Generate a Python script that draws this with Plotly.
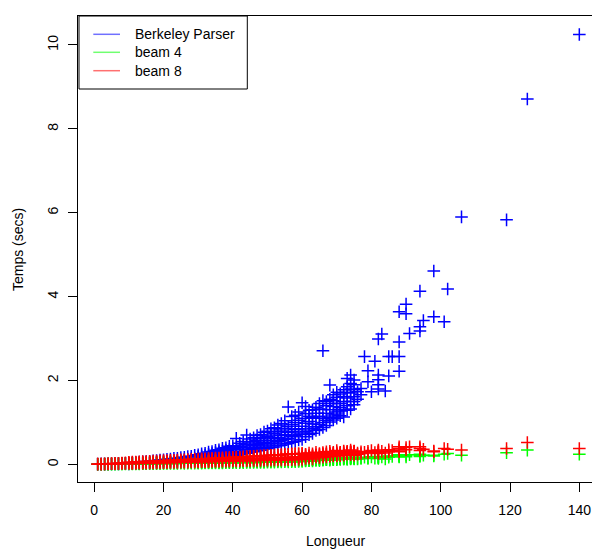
import plotly.graph_objects as go

# ---------------- data ----------------
lengths = [
    1, 1, 2, 2, 3, 3, 4, 4, 5, 5, 6, 6, 7, 7, 8, 8, 9, 9,
    10, 10, 10, 11, 11, 11, 12, 12, 12, 13, 13, 13, 14, 14, 14, 15, 15, 15,
    16, 16, 16, 17, 17, 17, 18, 18, 18, 19, 19, 19, 20, 20, 20,
    21, 21, 21, 22, 22, 22, 23, 23, 23, 24, 24, 24, 25, 25, 25,
    26, 26, 26, 27, 27, 27, 28, 28, 28, 29, 29, 29, 30, 30, 30,
    31, 31, 31, 32, 32, 32, 33, 33, 33, 34, 34, 34, 35, 35, 35,
    36, 36, 36, 37, 37, 37, 38, 38, 38, 39, 39, 39, 40, 40, 40,
    41, 41, 41, 42, 42, 42, 43, 43, 43, 44, 44, 44, 45, 45, 45,
    46, 46, 46, 47, 47, 47, 48, 48, 48, 49, 49, 49, 50, 50, 50,
    51, 51, 51, 52, 52, 52, 53, 53, 53, 54, 54, 54, 55, 55, 55,
    56, 56, 56, 57, 57, 57, 58, 58, 58, 59, 59, 59, 60, 60, 60,
    61, 61, 62, 62, 63, 63, 64, 64, 65, 65, 66, 66, 66, 67, 67,
    68, 68, 68, 69, 69, 69, 70, 70, 70, 71, 71, 72, 72, 73, 73, 73,
    74, 74, 74, 75, 75, 75, 76, 76, 77, 77, 78, 79, 79, 80, 81,
    82, 82, 82, 82, 82, 83, 84, 85, 85, 86, 88, 88, 88, 88, 90, 90, 91,
    94, 94, 94, 95, 98, 98, 101, 102, 106, 119, 125, 140,
    # further sentences in the dense part of the cloud
    30, 30, 31, 31, 32, 32, 33, 33, 34, 34, 35, 35, 36, 36, 37, 37, 38, 38,
    39, 39, 40, 40, 41, 41, 42, 42, 43, 43, 44, 44, 45, 45, 46, 46, 47, 47,
    48, 48, 49, 49, 50, 50, 51, 51, 52, 52, 53, 53, 54, 54, 55, 55, 56, 56,
    57, 57, 58, 58, 59, 59, 60, 60,
    61, 61, 61, 62, 62, 62, 63, 63, 63, 64, 64, 64, 65, 65, 65,
    66, 66, 66, 67, 67, 67, 68, 68, 68, 69, 69, 69, 70, 70, 70,
    71, 71, 71, 72, 72, 72, 73, 73, 73, 74, 74, 74, 75, 75, 75,
]

berkeley = [
    .004, .006, .005, .008, .006, .010, .008, .012, .010, .015, .012, .018, .013, .021, .015, .024, .017, .027,
    .012, .021, .034, .015, .023, .041, .016, .029, .045, .019, .031, .053, .020, .038, .061, .025, .041, .070,
    .026, .048, .074, .031, .051, .085, .032, .059, .090, .037, .063, .102, .039, .072, .108,
    .045, .076, .122, .047, .085, .128, .054, .090, .143, .057, .099, .148, .064, .104, .163,
    .067, .115, .170, .074, .120, .187, .077, .132, .194, .085, .138, .214, .089, .152, .227,
    .100, .161, .253, .106, .178, .266, .120, .188, .294, .126, .207, .306, .140, .218, .336,
    .148, .239, .350, .164, .249, .386, .172, .271, .395, .189, .281, .430, .198, .304, .444,
    .218, .316, .620, .227, .349, .505, .251, .366, .546, .263, .399, .700, .288, .416, .606,
    .300, .450, .634, .325, .466, .687, .338, .500, .714, .364, .515, .768, .376, .556, .792,
    .404, .574, .848, .416, .617, .872, .445, .638, .938, .455, .687, .972, .485, .708, 1.040,
    .495, .758, 1.370, .530, .778, 1.140, .545, .828, 1.170, .580, .852, 1.250, .595, .910, 1.470,
    .66, 1.21, .71, 1.29, .74, 1.12, .81, 1.36, .83, 1.45, .88, 1.31, 2.71, .93, 1.50,
    1.01, 1.55, 1.89, 1.06, 1.13, 1.66, 1.10, 1.25, 1.72, 1.16, 1.45, 1.13, 1.78, 1.29, 1.85, 2.05,
    1.50, 1.93, 2.13, 1.42, 1.61, 2.01, 1.73, 1.55, 1.81, 1.66, 2.57, 2.23, 1.97, 1.73, 2.46,
    2.99, 2.13, 2.02, 1.90, 1.80, 3.11, 1.75, 2.57, 2.11, 2.57, 3.64, 2.92, 2.57, 2.22, 3.82, 3.59, 3.12,
    4.13, 3.28, 3.18, 3.43, 4.61, 3.52, 3.40, 4.18, 5.90, 5.83, 8.71, 10.25,
    .12, .19, .13, .20, .14, .22, .15, .24, .165, .26, .175, .28, .19, .30, .20, .32, .22, .335,
    .235, .355, .25, .38, .265, .40, .285, .43, .30, .46, .32, .48, .35, .51, .37, .54, .39, .57,
    .41, .61, .44, .64, .46, .67, .49, .70, .51, .74, .54, .78, .57, .82, .60, .86, .62, .91,
    .66, .95, .69, 1.00, .72, 1.05, .75, 1.10,
    .78, .98, 1.38, .82, 1.02, 1.15, .86, .96, 1.30, .90, 1.10, 1.22, .95, 1.15, 1.32,
    1.00, 1.10, 1.52, 1.05, 1.22, 1.40, 1.12, 1.30, 1.45, 1.18, 1.38, 1.52, 1.20, 1.45, 1.60,
    1.27, 1.35, 1.68, 1.30, 1.50, 1.62, 1.40, 1.58, 1.72, 1.32, 1.70, 1.80, 1.50, 1.78, 1.90,
]

beam4 = [
    .002, .003, .003, .004, .004, .005, .005, .006, .006, .008, .007, .009, .008, .011, .009, .012, .010, .014,
    .015, .010, .025, .017, .011, .026, .018, .013, .030, .019, .012, .031, .022, .014, .034, .021, .016, .036,
    .024, .015, .038, .026, .017, .039, .027, .019, .042, .029, .018, .043, .030, .021, .046,
    .031, .020, .048, .034, .022, .049, .033, .024, .052, .036, .023, .054, .038, .026, .055,
    .039, .025, .058, .041, .027, .059, .042, .029, .062, .044, .028, .063, .045, .031, .066,
    .046, .030, .068, .049, .033, .071, .048, .032, .074, .052, .035, .075, .051, .034, .079,
    .055, .037, .080, .054, .036, .084, .058, .039, .085, .057, .038, .089, .061, .041, .090,
    .062, .040, .093, .065, .043, .094, .064, .042, .097, .069, .045, .098, .068, .044, .101,
    .073, .047, .102, .072, .046, .105, .077, .049, .106, .076, .048, .109, .081, .051, .110,
    .080, .053, .114, .085, .052, .116, .084, .057, .120, .089, .056, .121, .088, .061, .126,
    .093, .060, .128, .092, .065, .132, .097, .064, .133, .096, .069, .138, .101, .068, .140,
    .08, .13, .09, .12, .08, .14, .10, .15, .09, .13, .10, .14, .12, .11, .15,
    .10, .16, .13, .11, .12, .15, .12, .11, .16, .12, .14, .13, .15, .12, .16, .14,
    .13, .15, .17, .14, .13, .16, .15, .13, .14, .16, .17, .16, .14, .18, .15,
    .17, .19, .14, .16, .18, .18, .13, .17, .20, .19, .21, .18, .23, .19, .18, .22, .23,
    .21, .24, .19, .22, .20, .22, .24, .26, .22, .28, .34, .24,
    .038, .055, .040, .058, .041, .060, .043, .062, .044, .064, .046, .066, .047, .068, .048, .070, .050, .072,
    .051, .075, .053, .077, .054, .079, .056, .081, .057, .083, .059, .086, .060, .088, .062, .090, .063, .092,
    .065, .095, .066, .097, .068, .100, .070, .102, .071, .105, .073, .107, .074, .110, .076, .112, .078, .115,
    .080, .118, .081, .120, .083, .122, .085, .125,
    .09, .11, .12, .095, .115, .10, .10, .12, .11, .10, .12, .13, .11, .12, .14,
    .11, .13, .12, .12, .13, .11, .12, .14, .13, .12, .14, .15, .13, .14, .15,
    .13, .15, .14, .13, .15, .16, .14, .15, .16, .14, .16, .15, .15, .16, .17,
]

beam8 = [
    .005, .008, .007, .010, .009, .013, .011, .016, .014, .020, .016, .024, .018, .028, .021, .032, .023, .036,
    .050, .020, .035, .053, .022, .037, .057, .024, .040, .060, .026, .042, .066, .028, .045, .070, .030, .048,
    .072, .032, .050, .077, .034, .053, .080, .036, .055, .086, .038, .058, .090, .040, .060,
    .093, .042, .063, .097, .044, .066, .100, .046, .069, .104, .048, .072, .110, .050, .075,
    .112, .052, .078, .117, .054, .081, .120, .056, .084, .124, .058, .087, .130, .060, .090,
    .132, .062, .093, .136, .064, .096, .140, .066, .099, .144, .068, .102, .150, .070, .105,
    .152, .072, .108, .156, .074, .111, .160, .076, .114, .164, .078, .117, .170, .080, .120,
    .172, .082, .123, .176, .084, .126, .180, .086, .129, .184, .088, .132, .190, .090, .135,
    .192, .092, .138, .196, .094, .141, .200, .096, .144, .204, .098, .147, .210, .100, .150,
    .214, .102, .153, .219, .104, .156, .224, .106, .159, .229, .108, .162, .235, .110, .165,
    .240, .112, .168, .244, .114, .171, .250, .116, .174, .254, .118, .177, .260, .120, .180,
    .14, .24, .15, .27, .13, .25, .17, .29, .16, .26, .17, .28, .22, .18, .30,
    .19, .31, .24, .20, .22, .29, .22, .20, .33, .21, .28, .22, .32, .24, .30, .27,
    .23, .29, .34, .25, .22, .31, .27, .24, .26, .30, .29, .31, .27, .33, .28,
    .30, .34, .26, .29, .32, .31, .27, .30, .35, .33, .42, .30, .38, .34, .35, .40, .42,
    .38, .42, .33, .36, .30, .32, .38, .36, .34, .38, .52, .38,
    .075, .11, .078, .115, .082, .12, .085, .125, .088, .13, .09, .135, .093, .14, .096, .145, .10, .15,
    .102, .155, .105, .16, .108, .165, .11, .17, .113, .175, .116, .18, .12, .185, .122, .19, .125, .195,
    .128, .20, .13, .205, .133, .21, .136, .215, .14, .22, .142, .225, .145, .23, .148, .235, .15, .24,
    .153, .245, .156, .25, .16, .255, .163, .26,
    .17, .20, .22, .18, .21, .19, .19, .22, .20, .20, .23, .21, .21, .24, .19,
    .20, .25, .23, .22, .26, .24, .21, .27, .25, .23, .27, .26, .24, .28, .26,
    .25, .29, .27, .24, .30, .27, .26, .31, .28, .27, .31, .29, .27, .32, .30,
]

series_names = ["Berkeley Parser", "beam 4", "beam 8"]
series_colors = ["#0000ff", "#00ff00", "#ff0000"]
legend_colors = ["#7070ff", "#70ff70", "#ff7070"]
x_ticks = [0, 20, 40, 60, 80, 100, 120, 140]
y_ticks = [0, 2, 4, 6, 8, 10]

# ---------------- figure ----------------
W, H = 592, 552
L, R, T, B = 78, 0, 16, 70
PW, PH = W - L - R, H - T - B


def px(x):   # page pixel -> paper x
    return (x - L) / PW


def py(y):   # page pixel -> paper y
    return (H - B - y) / PH


fig = go.Figure()
for name, vals, col in zip(series_names, [berkeley, beam4, beam8], series_colors):
    fig.add_trace(go.Scatter(
        x=lengths, y=vals, mode="markers", name=name, showlegend=False,
        marker=dict(symbol="cross-thin", size=9, color=col,
                    line=dict(color=col, width=1.5)),
    ))

font = dict(family="Liberation Sans, Arial, Helvetica, sans-serif", size=14, color="black")

fig.update_xaxes(
    range=[-4.68, 143.66], tickvals=x_ticks, ticks="outside", ticklen=9,
    tickwidth=1, tickcolor="black", showline=True, linecolor="black",
    linewidth=1, mirror=True, showgrid=False, zeroline=False, tickfont=font,
    ticklabelstandoff=6, ticklabeloverflow="allow",
)
fig.update_yaxes(
    range=[-0.42, 10.69], tickvals=y_ticks, ticks="outside", ticklen=9,
    tickwidth=1, tickcolor="black", showline=True, linecolor="black",
    linewidth=1, mirror=False, showgrid=False, zeroline=False, tickfont=font,
    tickangle=-90, ticklabelstandoff=4,
)

shapes = [
    dict(type="rect", xref="paper", yref="paper", x0=px(79), x1=px(247.3),
         y0=py(89), y1=1, line=dict(color="black", width=1), fillcolor="white",
         layer="above"),
]
annotations = []
rows = [34.3, 52.3, 70.7]
for name, col, ry in zip(series_names, legend_colors, rows):
    shapes.append(dict(type="line", xref="paper", yref="paper",
                       x0=px(93.3), x1=px(120), y0=py(ry), y1=py(ry),
                       line=dict(color=col, width=1.5), layer="above"))
    annotations.append(dict(text=name, xref="paper", yref="paper",
                            x=px(133), y=py(ry), xanchor="left", yanchor="middle",
                            showarrow=False, font=font))

annotations.append(dict(text="Longueur", xref="paper", yref="paper",
                        x=px(336), y=py(541), xanchor="center", yanchor="middle",
                        showarrow=False, font=font))
annotations.append(dict(text="Temps (secs)", xref="paper", yref="paper",
                        x=px(18), y=py(250), xanchor="center", yanchor="middle",
                        showarrow=False, font=font, textangle=-90))

fig.update_layout(
    width=W, height=H, margin=dict(l=L, r=R, t=T, b=B, pad=0),
    paper_bgcolor="white", plot_bgcolor="white",
    shapes=shapes, annotations=annotations, font=font,
)

fig.write_html(
    "out.html",
    config={"displayModeBar": False, "staticPlot": True},
    post_script="document.body.style.margin='0';document.body.style.overflow='hidden';",
)
